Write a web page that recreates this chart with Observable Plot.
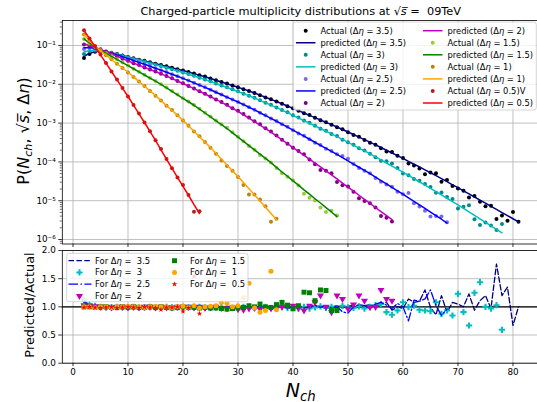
<!DOCTYPE html>
<html>
<head>
<meta charset="utf-8">
<script src="https://cdn.jsdelivr.net/npm/d3@7"></script>
<script src="https://cdn.jsdelivr.net/npm/@observablehq/plot@0.6"></script>
<style>
  html, body { margin: 0; padding: 0; background: #fff; overflow: hidden; }
  #figure { position: relative; width: 537px; height: 402px; overflow: hidden; background: #fff; }
  #figure svg { position: absolute; left: 0; }
</style>
</head>
<body>
<div id="figure"></div>
<script>
// Pseudorapidity windows, widest first
const etaWindows = [3.5, 3, 2.5, 2, 1.5, 1, 0.5];
const firstNch = 2;

// log10 of the predicted P(Nch) at Nch = 2, 3, 4, ...
const logPred35 = [-1.28,-1.20,-1.16,-1.15,-1.16,-1.19,-1.22,-1.26,-1.295,-1.33,
  -1.365,-1.40,-1.435,-1.47,-1.505,-1.54,-1.575,-1.61,-1.645,-1.685,
  -1.725,-1.765,-1.805,-1.85,-1.895,-1.94,-1.985,-2.03,-2.075,-2.125,
  -2.175,-2.225,-2.28,-2.335,-2.39,-2.445,-2.50,-2.56,-2.62,-2.68,
  -2.74,-2.80,-2.86,-2.92,-2.98,-3.04,-3.10,-3.165,-3.23,-3.295,
  -3.36,-3.425,-3.49,-3.56,-3.63,-3.70,-3.77,-3.84,-3.91,-3.985,
  -4.06,-4.13,-4.205,-4.28,-4.355,-4.43,-4.51,-4.59,-4.665,-4.745,
  -4.825,-4.905,-4.985,-5.065,-5.145,-5.225,-5.305,-5.385,-5.465,-5.545];
const logPred3 = [-1.17,-1.13,-1.12,-1.13,-1.16,-1.195,-1.225,-1.27,-1.305,-1.343,
  -1.382,-1.42,-1.458,-1.497,-1.535,-1.575,-1.615,-1.655,-1.695,-1.741,
  -1.787,-1.833,-1.879,-1.93,-1.981,-2.032,-2.083,-2.134,-2.185,-2.241,
  -2.297,-2.353,-2.414,-2.475,-2.538,-2.602,-2.665,-2.732,-2.80,-2.868,
  -2.936,-3.004,-3.072,-3.14,-3.209,-3.278,-3.347,-3.421,-3.495,-3.569,
  -3.643,-3.717,-3.791,-3.87,-3.949,-4.028,-4.107,-4.186,-4.265,-4.349,
  -4.433,-4.512,-4.596,-4.68,-4.764,-4.848,-4.937,-5.026,-5.11,-5.20,
  -5.29,-5.38,-5.47,-5.56,-5.65,-5.74,-5.83];
const logPred25 = [-1.06,-1.05,-1.08,-1.12,-1.16,-1.20,-1.24,-1.29,-1.335,-1.385,
  -1.435,-1.485,-1.535,-1.585,-1.635,-1.688,-1.741,-1.794,-1.847,-1.905,
  -1.963,-2.021,-2.079,-2.142,-2.205,-2.268,-2.331,-2.394,-2.457,-2.525,
  -2.593,-2.661,-2.734,-2.807,-2.88,-2.953,-3.026,-3.104,-3.182,-3.26,
  -3.338,-3.416,-3.494,-3.572,-3.65,-3.728,-3.806,-3.889,-3.972,-4.055,
  -4.138,-4.221,-4.304,-4.392,-4.48,-4.568,-4.656,-4.744,-4.832,-4.925,
  -5.018,-5.106,-5.199,-5.292,-5.385,-5.478,-5.576];
const logPred2 = [-0.96,-1.00,-1.05,-1.10,-1.16,-1.22,-1.28,-1.34,-1.40,-1.455,
  -1.51,-1.565,-1.62,-1.675,-1.73,-1.79,-1.85,-1.915,-1.98,-2.045,
  -2.11,-2.18,-2.25,-2.32,-2.39,-2.465,-2.54,-2.62,-2.70,-2.785,
  -2.87,-2.96,-3.05,-3.14,-3.23,-3.33,-3.43,-3.53,-3.63,-3.73,
  -3.83,-3.93,-4.03,-4.13,-4.23,-4.335,-4.44,-4.545,-4.65,-4.755,
  -4.86,-4.965,-5.07,-5.175,-5.28,-5.385,-5.49];
const logPred15 = [-0.83,-0.94,-1.04,-1.12,-1.20,-1.28,-1.36,-1.44,-1.52,-1.60,
  -1.68,-1.76,-1.84,-1.92,-2.00,-2.09,-2.18,-2.27,-2.36,-2.45,
  -2.54,-2.64,-2.74,-2.84,-2.94,-3.04,-3.14,-3.25,-3.36,-3.47,
  -3.58,-3.69,-3.80,-3.91,-4.02,-4.14,-4.26,-4.37,-4.49,-4.60,
  -4.72,-4.83,-4.95,-5.06,-5.18,-5.29,-5.41];
const logPred1 = [-0.72,-0.88,-1.02,-1.14,-1.25,-1.36,-1.47,-1.58,-1.69,-1.81,
  -1.93,-2.05,-2.17,-2.29,-2.42,-2.55,-2.67,-2.80,-2.93,-3.07,
  -3.21,-3.35,-3.49,-3.63,-3.78,-3.93,-4.08,-4.23,-4.38,-4.53,
  -4.69,-4.85,-5.01,-5.17,-5.33,-5.49];
const logPred05 = [-0.613,-0.82,-1.026,-1.24,-1.455,-1.67,-1.885,-2.10,-2.314,-2.538,
  -2.761,-2.985,-3.216,-3.448,-3.69,-3.93,-4.17,-4.40,-4.63,-4.86,
  -5.10,-5.33];

// predicted / actual at Nch = 2, 3, 4, ...
const ratio35 = [1.10,1.04,1.01,1.0,1.0,1.0,1.0,0.99,1.0,1.0,
  1.0,0.99,1.0,1.0,1.0,0.99,1.0,1.0,1.0,0.99,
  1.0,1.0,0.99,1.0,1.0,1.0,0.99,1.0,1.0,1.0,
  0.99,1.0,1.0,1.01,0.99,1.0,1.0,1.01,0.99,1.0,
  1.01,0.98,1.0,1.02,0.99,1.0,1.02,0.98,1.01,1.03,
  0.98,1.02,1.04,1.0,1.05,1.08,0.94,1.0,0.97,1.14,
  1.08,1.10,1.30,0.99,0.86,1.20,0.90,1.08,1.05,1.0,
  1.23,0.94,1.11,1.20,0.97,1.76,1.20,1.35,0.67,1.0];
const ratio3 = [1.12,1.05,1.02,1.0,0.99,0.99,1.0,0.99,0.99,1.0,
  0.99,0.99,1.0,0.99,0.99,1.0,0.99,0.99,1.0,0.99,
  0.99,1.0,0.99,0.98,0.99,1.0,0.99,0.98,0.99,1.0,
  0.99,0.98,0.99,1.0,0.98,0.99,1.0,0.98,0.99,0.97,
  1.0,0.97,0.99,1.01,0.98,1.0,0.97,1.02,0.99,0.98,
  1.01,0.97,1.0,1.03,1.05,0.906,0.86,0.935,1.08,0.994,
  1.02,0.947,0.935,0.923,1.08,0.876,0.935,0.847,1.231,0.906,
  0.669,1.249,1.438,1.0,0.97,1.03,0.592];
const ratio25 = [1.08,1.03,1.01,1.0,1.0,1.0,0.99,1.0,1.0,0.99,
  1.0,1.0,0.99,1.0,1.0,0.99,1.0,1.0,0.99,1.0,
  0.99,1.0,1.0,0.99,1.0,0.99,1.0,0.99,1.0,0.99,
  1.0,0.99,1.0,0.98,1.0,0.99,1.01,0.98,1.0,1.02,
  0.98,1.0,1.03,0.99,1.02,0.98,1.0,0.91,0.89,1.0,
  1.04,1.02,0.97,1.05,1.08,1.03,0.97,1.06,1.0,0.75,
  1.12,1.10,1.14,1.30,1.02,0.85,0.96];
const ratio2 = [1.03,1.02,1.01,1.0,1.0,0.99,1.0,1.0,0.99,1.0,
  0.99,1.0,1.0,0.99,1.0,0.99,0.99,1.0,0.99,1.0,
  0.99,1.0,0.98,0.99,1.0,0.98,0.97,0.99,0.96,0.95,
  0.97,0.98,0.96,0.99,0.97,0.98,1.0,1.01,1.02,0.98,
  0.935,1.02,1.08,1.20,1.0,0.906,1.20,1.14,0.965,1.04,
  1.20,1.11,0.994,1.0,1.30,1.14,1.11];
const ratio15 = [1.0,1.0,0.99,1.0,1.0,0.99,0.99,1.0,0.99,1.0,
  0.99,0.99,1.0,0.99,1.0,0.99,0.98,0.99,1.0,0.99,
  0.99,0.98,0.99,0.98,0.98,0.97,0.96,0.97,0.98,0.99,
  1.02,1.0,1.05,1.0,0.99,1.04,1.08,1.03,0.965,1.02,
  1.26,1.25,1.11,1.30,1.29,0.935,0.935];
const ratio1 = [1.0,1.0,0.99,1.0,1.0,0.99,1.0,1.0,1.01,1.0,
  1.0,0.99,1.0,1.01,1.0,1.0,0.99,1.0,1.01,0.99,
  1.02,0.98,1.0,1.01,1.02,1.08,1.06,1.0,1.02,1.16,
  1.42,0.98,0.905,0.935,1.63,0.95];
const ratio05 = [0.99,1.0,0.99,0.98,0.99,1.0,0.98,0.99,1.0,0.99,
  0.98,1.0,0.99,0.98,0.95,0.99,0.99,1.0,0.92,0.98,
  1.54,0.88];

const actualColors = ["#000000", "#008b8b", "#7b68ee", "#800080", "#9acd32", "#b8860b", "#b22222"];
const predColors = ["#000080", "#00bfbf", "#0000ff", "#bf00bf", "#008000", "#ffa500", "#ff0000"];

const topLegendText = [
  "Actual (Δη = 3.5)", "predicted (Δη = 3.5)", "Actual (Δη = 3)", "predicted (Δη = 3)",
  "Actual (Δη = 2.5)", "predicted (Δη = 2.5)", "Actual (Δη = 2)", "predicted (Δη = 2)",
  "Actual (Δη = 1.5)", "predicted (Δη = 1.5)", "Actual (Δη = 1)", "predicted (Δη = 1)",
  "Actual (Δη = 0.5)V", "predicted (Δη = 0.5)"];
const ratioLegendText = ["For Δη =  3.5", "For Δη =  3", "For Δη =  2.5", "For Δη =  2",
  "For Δη =  1.5", "For Δη =  1", "For Δη =  0.5"];

const xTicks = [0, 10, 20, 30, 40, 50, 60, 70, 80];
const yTicksTop = [1e-6, 1e-5, 1e-4, 1e-3, 1e-2, 1e-1];
const yTicksBottom = [0, 0.5, 1, 1.5, 2];

// ---- derived rows -------------------------------------------------------
const logPreds = [logPred35, logPred3, logPred25, logPred2, logPred15, logPred1, logPred05];
const ratios = [ratio35, ratio3, ratio25, ratio2, ratio15, ratio1, ratio05];
const series = etaWindows.map((eta, k) => logPreds[k].map((lp, i) => {
  const pred = 10 ** lp;
  const ratio = ratios[k][i];
  return {eta, n: firstNch + i, pred, ratio, actual: pred / ratio};
}));

const xDomain = [-1.945, 84.95];
const yDomainTop = [10 ** -6.116, 10 ** -0.356];
const yMinorTop = [];
for (let e = -7; e <= 0; e++) for (let m = 2; m <= 9; m++) {
  const v = m * 10 ** e;
  if (v > yDomainTop[0] && v < yDomainTop[1]) yMinorTop.push(v);
}
const sup = {"-": "⁻", "0": "⁰", "1": "¹", "2": "²", "3": "³", "4": "⁴", "5": "⁵", "6": "⁶", "7": "⁷", "8": "⁸", "9": "⁹"};
const powerLabel = v => "10" + String(Math.round(Math.log10(v))).replace(/./g, c => sup[c]);

const triangleDown = {
  draw(context, size) {
    const y = -Math.sqrt(size / (Math.sqrt(3) * 3));
    context.moveTo(0, -y * 2);
    context.lineTo(-Math.sqrt(3) * y, y);
    context.lineTo(Math.sqrt(3) * y, y);
    context.closePath();
  }
};

const baseStyle = {fontFamily: "DejaVu Sans", fontSize: "8.8px", color: "#000",
  background: "transparent", maxWidth: "none", overflow: "visible"};
const gridStyle = {stroke: "#b0b0b0", strokeOpacity: 1, strokeWidth: 0.8};

// ---- upper panel: distributions ---------------------------------------
const topPlot = Plot.plot({
  width: 546, height: 248,
  marginLeft: 61.8, marginRight: 6.3, marginTop: 20, marginBottom: 4.5,
  style: baseStyle,
  x: {domain: xDomain},
  y: {type: "log", domain: yDomainTop},
  marks: [
    Plot.gridX(xTicks, gridStyle),
    Plot.gridY(yTicksTop, gridStyle),
    ...series.flatMap((rows, k) => [
      Plot.dot(rows, {x: "n", y: "actual", r: 2, fill: actualColors[k]}),
      Plot.line(rows, {x: "n", y: "pred", stroke: predColors[k], strokeWidth: 1.5})
    ]),
    Plot.axisY(yMinorTop, {tickSize: 2, tickFormat: () => "", label: null, strokeWidth: 0.6}),
    Plot.axisY(yTicksTop, {tickSize: 3.5, tickPadding: 3, tickFormat: powerLabel, label: null, strokeWidth: 0.8}),
    Plot.axisX(xTicks, {tickSize: 3.5, tickFormat: () => "", label: null, strokeWidth: 0.8}),
    Plot.frame({stroke: "#000", strokeWidth: 0.8})
  ]
});

// ---- lower panel: predicted / actual ----------------------------------
const bottomPlot = Plot.plot({
  width: 546, height: 156,
  marginLeft: 61.8, marginRight: 6.3, marginTop: 4, marginBottom: 39.3,
  style: baseStyle,
  x: {domain: xDomain},
  y: {domain: [0, 2]},
  marks: [
    Plot.gridX(xTicks, gridStyle),
    Plot.gridY(yTicksBottom, gridStyle),
    Plot.ruleY([1], {stroke: "#000", strokeWidth: 1.3}),
    Plot.line(series[0], {x: "n", y: "ratio", stroke: predColors[0], strokeWidth: 1.3, strokeDasharray: "5.5,2.4"}),
    Plot.dot(series[1], {x: "n", y: "ratio", symbol: "cross", r: 2.6, fill: predColors[1]}),
    Plot.line(series[2], {x: "n", y: "ratio", stroke: predColors[2], strokeWidth: 1.3, strokeDasharray: "9.6,2.4,1.5,2.4"}),
    Plot.dot(series[3], {x: "n", y: "ratio", symbol: triangleDown, r: 2.6, fill: predColors[3]}),
    Plot.dot(series[4], {x: "n", y: "ratio", symbol: "square", r: 2.8, fill: predColors[4]}),
    Plot.dot(series[5], {x: "n", y: "ratio", symbol: "circle", r: 2.5, fill: predColors[5]}),
    Plot.dot(series[6], {x: "n", y: "ratio", symbol: "star", r: 1.8, fill: predColors[6]}),
    Plot.axisX(xTicks, {tickSize: 3.5, tickPadding: 2.5, label: null, strokeWidth: 0.8}),
    Plot.axisY(yTicksBottom, {tickSize: 3.5, tickPadding: 3, tickFormat: d3.format(".1f"), label: null, strokeWidth: 0.8}),
    Plot.frame({stroke: "#000", strokeWidth: 0.8})
  ]
});

const fig = document.getElementById("figure");
topPlot.style.top = "0px";
bottomPlot.style.top = "246px";
fig.append(topPlot, bottomPlot);

// text with an italic η
function addRich(textSel, str) {
  str.split(/(η)/).forEach(part => {
    if (!part) return;
    const t = textSel.append("tspan").text(part);
    if (part === "η") t.attr("font-style", "italic");
  });
}

const topSvg = d3.select(topPlot);
const botSvg = d3.select(bottomPlot);

// title
const title = topSvg.append("text").attr("x", 300.75).attr("y", 14.8)
  .attr("text-anchor", "middle").attr("font-size", 11.3).attr("fill", "#000");
title.append("tspan").text("Charged-particle multiplicity distributions at √");
title.append("tspan").attr("font-style", "italic").text("s\u0305");
title.append("tspan").text(" =  09TeV");

// y label, upper panel
const yl = topSvg.append("text").attr("transform", "translate(28.5,131) rotate(-90)")
  .attr("text-anchor", "middle").attr("font-size", 16).attr("fill", "#000");
yl.append("tspan").text("P(");
yl.append("tspan").attr("font-style", "italic").text("N");
yl.append("tspan").attr("font-style", "italic").attr("font-size", 11.2).attr("dy", 3.5).text("ch");
yl.append("tspan").attr("dy", -3.5).text(", √");
yl.append("tspan").attr("font-style", "italic").text("s\u0305");
yl.append("tspan").text(", Δ");
yl.append("tspan").attr("font-style", "italic").text("η");
yl.append("tspan").text(")");

// y label, lower panel
botSvg.append("text").attr("transform", "translate(33.5,59) rotate(-90)")
  .attr("text-anchor", "middle").attr("font-size", 12.9).attr("fill", "#000")
  .text("Predicted/Actual");

// x label
const xl = botSvg.append("text").attr("x", 300.75).attr("y", 150.5)
  .attr("text-anchor", "middle").attr("font-size", 19).attr("fill", "#000");
xl.append("tspan").attr("font-style", "italic").text("N");
xl.append("tspan").attr("font-style", "italic").attr("font-size", 13.3).attr("dy", 4).text("ch");

// legend, upper panel
const tl = topSvg.append("g").attr("text-anchor", "start");
tl.append("rect").attr("x", 293.3).attr("y", 22).attr("width", 243).attr("height", 88).attr("rx", 2.5)
  .attr("fill", "#fff").attr("fill-opacity", 0.8).attr("stroke", "#cccccc").attr("stroke-width", 0.8);
topLegendText.forEach((label, i) => {
  const k = Math.floor(i / 2), isLine = i % 2 === 1;
  const col = Math.floor(i / 7), row = i % 7;
  const y = 30.7 + row * 12.05;
  const hx = col === 0 ? 296 : 423;
  if (isLine) {
    tl.append("line").attr("x1", hx).attr("x2", hx + 19.5).attr("y1", y).attr("y2", y)
      .attr("stroke", predColors[k]).attr("stroke-width", 1.5);
  } else {
    tl.append("circle").attr("cx", hx + 9.7).attr("cy", y).attr("r", 2).attr("fill", actualColors[k]);
  }
  const t = tl.append("text").attr("x", hx + 24.5).attr("y", y).attr("dy", "0.35em")
    .attr("text-anchor", "start").attr("font-size", 8.4).attr("fill", "#000");
  addRich(t, label);
});

// legend, lower panel
const bl = botSvg.append("g").attr("text-anchor", "start");
bl.append("rect").attr("x", 66.7).attr("y", 7.3).attr("width", 181.3).attr("height", 48.4).attr("rx", 2.5)
  .attr("fill", "#fff").attr("fill-opacity", 0.8).attr("stroke", "#cccccc").attr("stroke-width", 0.8);
const symbolFor = [null, d3.symbolCross, null, triangleDown, d3.symbolSquare, d3.symbolCircle, d3.symbolStar];
const symbolR = [0, 2.6, 0, 2.6, 2.8, 2.5, 1.8];
const dashFor = ["5.5,2.4", null, "9.6,2.4,1.5,2.4"];
ratioLegendText.forEach((label, k) => {
  const col = k < 4 ? 0 : 1, row = k < 4 ? k : k - 4;
  const y = 14.7 + row * 11.75;
  const hx = col === 0 ? 68.5 : 163.5;
  if (symbolFor[k]) {
    bl.append("path").attr("transform", `translate(${hx + 11},${y})`)
      .attr("d", d3.symbol(symbolFor[k], Math.PI * symbolR[k] ** 2)())
      .attr("fill", predColors[k]);
  } else {
    bl.append("line").attr("x1", hx).attr("x2", hx + 23).attr("y1", y).attr("y2", y)
      .attr("stroke", predColors[k]).attr("stroke-width", 1.3).attr("stroke-dasharray", dashFor[k]);
  }
  const t = bl.append("text").attr("x", hx + 26.5).attr("y", y).attr("dy", "0.35em")
    .attr("text-anchor", "start").attr("font-size", 8.4).attr("fill", "#000");
  addRich(t, label);
});
</script>
</body>
</html>
